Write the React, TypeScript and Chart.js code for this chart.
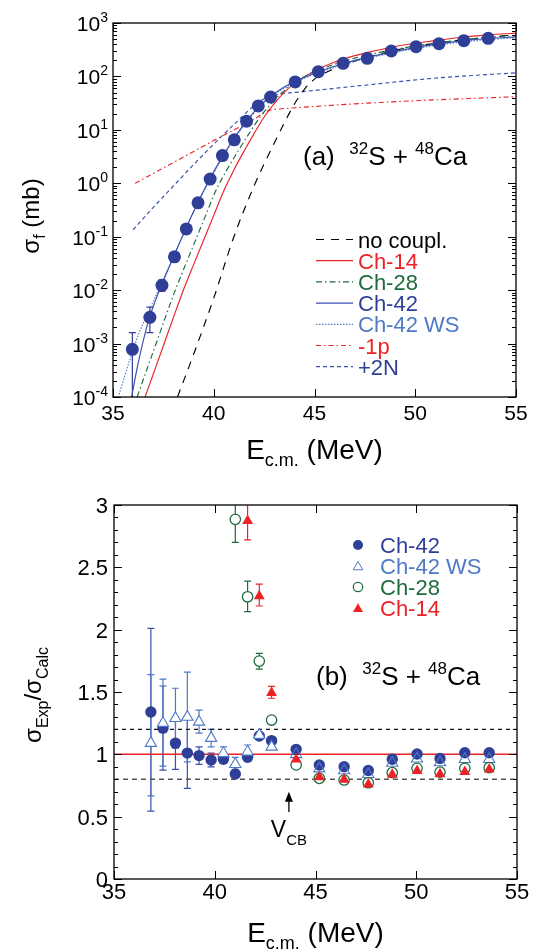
import React, { useEffect, useRef } from "react";
import { Chart, registerables } from "chart.js";

Chart.register(...registerables);

const FONT = '"Liberation Sans", Arial, Helvetica, sans-serif';
const C_DARK = "#2f3f97";
const C_CH42 = "#3a4fae";
const C_WS = "#4f79c8";
const C_RED = "#ec2227";
const C_GREEN = "#1d6c3c";

// ---------------- Panel (a): fission cross section ----------------
const E_EXP = [35.96, 36.83, 37.43, 38.05, 38.64, 39.22, 39.82, 40.43, 41.02, 41.63, 42.21, 42.82, 44.04, 45.19, 46.42, 47.62, 48.81, 50.04, 51.18, 52.41, 53.62];
const SIGMA_EXP = [7.8e-4, 3.1e-3, 0.0123, 0.042, 0.14, 0.43, 1.2, 3.3, 6.5, 14.5, 28, 41, 79, 123, 176, 218, 299, 360, 410, 467, 516];
const SIGMA_LO = [1e-5, 1.6e-3, 0.0095, 0.037, 0.12, null, null, null, null, null, null, null, null, null, null, null, null, null, null, null, null];
const SIGMA_HI = [1.6e-3, 4.8e-3, 0.0155, 0.047, 0.165, null, null, null, null, null, null, null, null, null, null, null, null, null, null, null, null];

const E_NOCOUPL = [38.2, 39, 40, 41, 42, 43, 44, 44.5, 45, 46, 47, 48, 49, 50, 51, 52, 53, 54, 55];
const S_NOCOUPL = [1.0e-4, 6.3e-4, 7.1e-3, 0.1, 0.89, 5.6, 30.2, 57.5, 89, 141, 195, 251, 309, 363, 417, 468, 513, 562, 596];

const E_CH14 = [36.59, 37, 37.5, 38, 38.5, 39, 39.5, 40, 40.5, 41, 41.5, 42, 42.5, 43, 43.5, 44, 45, 46, 47, 48, 49, 50, 51, 52, 53, 54, 55];
const S_CH14 = [1.0e-4, 2.7e-4, 9.1e-4, 3.1e-3, 0.0102, 0.03, 0.087, 0.251, 0.724, 1.78, 3.98, 8.5, 17.4, 30.9, 50.1, 74.1, 126, 186, 245, 302, 363, 417, 468, 525, 575, 617, 646];

const E_CH28 = [36.2, 36.6, 37.1, 37.6, 38.1, 38.6, 39.1, 39.6, 40.1, 40.65, 41.2, 41.75, 42.3, 42.85, 43.4, 44, 45, 46, 47, 48, 49, 50, 51, 52, 53, 54, 55];
const S_CH28 = [1.0e-4, 2.7e-4, 9.1e-4, 3.1e-3, 0.0102, 0.03, 0.087, 0.251, 0.724, 1.78, 3.98, 8.5, 17.4, 30.9, 50.1, 77, 120, 170, 220, 270, 320, 372, 420, 468, 515, 550, 580];

const E_CH42 = [35.9, 36.2, 36.5, 36.8, 37.1, 37.4, 38, 38.6, 39.2, 39.8, 40.4, 41, 41.6, 42.2, 42.8, 43.4, 44, 45, 46, 47, 48, 49, 50, 51, 52, 53, 54, 55];
const S_CH42 = [8.9e-5, 3.5e-4, 1.12e-3, 3.0e-3, 6.3e-3, 0.0123, 0.0417, 0.138, 0.427, 1.2, 3.02, 6.9, 14.1, 26.3, 41.7, 60.3, 79.4, 115, 155, 200, 245, 295, 347, 398, 447, 490, 525, 550];

const E_CH42WS = [35.3, 35.8, 36.3, 36.8, 37.4, 38, 38.6, 39.2, 39.8, 40.4, 41, 41.6, 42.2, 42.8, 43.4, 44, 45, 46, 47, 48, 49, 50, 51, 52, 53, 54, 55];
const S_CH42WS = [1.12e-4, 4.5e-4, 1.6e-3, 4.2e-3, 0.0132, 0.0427, 0.138, 0.417, 1.15, 2.88, 6.6, 13.5, 25.1, 39.8, 57.5, 75.9, 110, 148, 190, 234, 282, 331, 380, 427, 468, 501, 525];

const E_M1P = [36.1, 37, 38, 39, 40, 41, 42, 42.4, 42.8, 43.2, 44.3, 47.6, 50.9, 55];
const S_M1P = [1.0, 1.53, 2.45, 3.94, 6.3, 10, 15.8, 20, 23.4, 24.5, 26.3, 31.6, 36.3, 41.7];

const E_P2N = [36, 37, 38, 39, 40, 41, 42, 42.6, 43.3, 44.3, 47.6, 50.9, 55];
const S_P2N = [0.135, 0.355, 0.89, 2.24, 5.4, 12.6, 28.2, 39.8, 46.8, 51.3, 69.2, 92.3, 117];

const TOP_X_TICKS = [35, 40, 45, 50, 55];
const TOP_Y_EXP = [-4, -3, -2, -1, 0, 1, 2, 3];

// ---------------- Panel (b): ratio exp / calc ----------------
const E_B = [36.83, 37.43, 38.05, 38.64, 39.22, 39.82, 40.43, 41.02, 41.63, 42.21, 42.82, 44.04, 45.19, 46.42, 47.62, 48.81, 50.04, 51.18, 52.41, 53.62];
const R_CH42 = [1.34, 1.21, 1.09, 1.01, 0.99, 0.955, 0.96, 0.843, 0.976, 1.147, 1.11, 1.04, 0.914, 0.9, 0.87, 0.96, 1.003, 0.967, 1.013, 1.013];
const R_CH42_LO = [0.545, 0.874, 0.88, 0.727, 0.92, 0.9, null, null, null, null, null, null, null, null, null, null, null, null, null, null];
const R_CH42_HI = [2.01, 1.548, 1.3, 1.29, 1.06, 1.01, null, null, null, null, null, null, null, null, null, null, null, null, null, null];
const R_WS = [1.09, 1.25, 1.29, 1.3, 1.26, 1.13, 1.008, 0.92, 1.02, 1.155, 1.06, 1.0, 0.885, 0.87, 0.84, 0.93, 0.965, 0.935, 0.96, 0.96];
const R_WS_LO = [0.667, 0.906, 1.05, 0.94, 1.17, 1.06, 0.97, 0.88, 0.985, null, null, null, null, null, null, null, null, null, null, null];
const R_WS_HI = [1.64, 1.604, 1.53, 1.66, 1.355, 1.2, 1.06, 0.975, 1.075, null, null, null, null, null, null, null, null, null, null, null];

const E_B28 = [41.02, 41.63, 42.21, 42.82, 44.04, 45.19, 46.42, 47.62, 48.81, 50.04, 51.18, 52.41, 53.62];
const R_CH28 = [2.885, 2.264, 1.748, 1.275, 0.915, 0.807, 0.794, 0.772, 0.853, 0.888, 0.857, 0.888, 0.893];
const R_CH28_LO = [2.7, 2.144, 1.684, null, null, null, null, null, null, null, null, null, null];
const R_CH28_HI = [3.08, 2.39, 1.81, null, null, null, null, null, null, null, null, null, null];

const E_B14 = [41.63, 42.21, 42.82, 44.04, 45.19, 46.42, 47.62, 48.81, 50.04, 51.18, 52.41, 53.62];
const R_CH14 = [2.873, 2.27, 1.494, 0.96, 0.818, 0.797, 0.76, 0.838, 0.867, 0.842, 0.86, 0.879];
const R_CH14_LO = [2.72, 2.19, 1.45, null, null, null, null, null, null, null, null, null];
const R_CH14_HI = [3.08, 2.365, 1.545, null, null, null, null, null, null, null, null, null];

const REF_X = [35, 55];
const REF_ONE = [1, 1];
const REF_HIGH = [1.2, 1.2];
const REF_LOW = [0.8, 0.8];
const V_CB = 43.68;
const V_CB_ARROW = [0.537, 0.7];

const BOT_X_TICKS = [35, 40, 45, 50, 55];
const BOT_Y_TICKS = [0, 0.5, 1, 1.5, 2, 2.5, 3];
const BOT_Y_LABELS = ["0", "0.5", "1", "1.5", "2", "2.5", "3"];

// ---------------- helpers ----------------
type Run = { t: string; size: number; dy?: number };

function pts(xs: number[], ys: (number | null)[]) {
  return xs.map((x, i) => ({ x, y: ys[i] }));
}

function runsWidth(ctx: CanvasRenderingContext2D, runs: Run[]) {
  let w = 0;
  for (const r of runs) {
    ctx.font = `${r.size}px ${FONT}`;
    w += ctx.measureText(r.t).width;
  }
  return w;
}

function drawRuns(ctx: CanvasRenderingContext2D, runs: Run[], x: number, y: number, align: string, color: string) {
  const w = runsWidth(ctx, runs);
  let cx = align === "left" ? x : align === "center" ? x - w / 2 : x - w;
  ctx.fillStyle = color;
  ctx.textAlign = "left";
  ctx.textBaseline = "alphabetic";
  for (const r of runs) {
    ctx.font = `${r.size}px ${FONT}`;
    ctx.fillText(r.t, cx, y + (r.dy || 0));
    cx += ctx.measureText(r.t).width;
  }
}

function drawRotated(ctx: CanvasRenderingContext2D, runs: Run[], baseX: number, cy: number) {
  ctx.save();
  ctx.translate(baseX, cy);
  ctx.rotate(-Math.PI / 2);
  drawRuns(ctx, runs, 0, 0, "center", "#000");
  ctx.restore();
}

function drawFrame(chart: any, xMajor: number[], yMajor: number[], yMinor: number[]) {
  const { ctx, chartArea: a } = chart;
  const x = chart.scales.x;
  const y = chart.scales.y;
  ctx.save();
  ctx.setLineDash([]);
  ctx.strokeStyle = "#000";
  ctx.lineWidth = 1;
  ctx.beginPath();
  for (const v of xMajor) {
    const p = Math.round(x.getPixelForValue(v)) + 0.5;
    ctx.moveTo(p, a.bottom);
    ctx.lineTo(p, a.bottom - 8);
    ctx.moveTo(p, a.top);
    ctx.lineTo(p, a.top + 8);
  }
  for (const v of yMajor) {
    const p = Math.round(y.getPixelForValue(v)) + 0.5;
    ctx.moveTo(a.left, p);
    ctx.lineTo(a.left + 8, p);
    ctx.moveTo(a.right, p);
    ctx.lineTo(a.right - 8, p);
  }
  for (const v of yMinor) {
    const p = Math.round(y.getPixelForValue(v)) + 0.5;
    ctx.moveTo(a.left, p);
    ctx.lineTo(a.left + 4, p);
    ctx.moveTo(a.right, p);
    ctx.lineTo(a.right - 4, p);
  }
  ctx.stroke();
  ctx.lineWidth = 1.3;
  ctx.strokeRect(a.left, a.top, a.right - a.left, a.bottom - a.top);
  ctx.restore();
}

type ErrSet = { xs: number[]; lo: (number | null)[]; hi: (number | null)[]; color: string };

function errorBarPlugin(sets: ErrSet[]) {
  return {
    id: "errbars",
    beforeDatasetsDraw(chart: any) {
      const { ctx, chartArea: a } = chart;
      const x = chart.scales.x;
      const y = chart.scales.y;
      ctx.save();
      ctx.beginPath();
      ctx.rect(a.left, a.top, a.right - a.left, a.bottom - a.top);
      ctx.clip();
      ctx.setLineDash([]);
      for (const s of sets) {
        ctx.strokeStyle = s.color;
        ctx.lineWidth = 1.2;
        s.xs.forEach((xv, i) => {
          const lo = s.lo[i];
          const hi = s.hi[i];
          if (lo == null || hi == null) return;
          const px = x.getPixelForValue(xv);
          const p1 = y.getPixelForValue(lo);
          const p2 = y.getPixelForValue(hi);
          ctx.beginPath();
          ctx.moveTo(px, p1);
          ctx.lineTo(px, p2);
          ctx.moveTo(px - 3.5, p1);
          ctx.lineTo(px + 3.5, p1);
          ctx.moveTo(px - 3.5, p2);
          ctx.lineTo(px + 3.5, p2);
          ctx.stroke();
        });
      }
      ctx.restore();
    },
  };
}

function curve(xs: number[], ys: number[], color: string, dash: number[], width = 1.15) {
  return {
    data: pts(xs, ys),
    showLine: true,
    borderColor: color,
    borderWidth: width,
    borderDash: dash,
    pointRadius: 0,
    fill: false,
    cubicInterpolationMode: "monotone",
    order: 5,
  };
}

const baseScales = (xMin: number, xMax: number, yType: string, yMin: number, yMax: number, xH: number, yW: number) => ({
  x: {
    type: "linear",
    min: xMin,
    max: xMax,
    ticks: { display: false },
    grid: { display: false },
    border: { display: false },
    afterFit: (s: any) => {
      s.height = xH;
    },
  },
  y: {
    type: yType,
    min: yMin,
    max: yMax,
    ticks: { display: false },
    grid: { display: false },
    border: { display: false },
    afterFit: (s: any) => {
      s.width = yW;
    },
  },
});

function topConfig(): any {
  const yMinor: number[] = [];
  for (let k = -4; k < 3; k++) for (let m = 2; m <= 9; m++) yMinor.push(m * Math.pow(10, k));
  const yMajor = TOP_Y_EXP.map((e) => Math.pow(10, e));

  const legendRows = [
    { label: "no coupl.", color: "#000", text: "#000", dash: [8, 7] },
    { label: "Ch-14", color: C_RED, text: C_RED, dash: [] },
    { label: "Ch-28", color: C_GREEN, text: C_GREEN, dash: [6, 3, 1.5, 3] },
    { label: "Ch-42", color: C_CH42, text: C_DARK, dash: [] },
    { label: "Ch-42 WS", color: C_WS, text: C_WS, dash: [1.5, 1.5] },
    { label: "-1p", color: C_RED, text: C_RED, dash: [5, 3, 1.5, 3] },
    { label: "+2N", color: C_CH42, text: C_DARK, dash: [4, 3] },
  ];

  const deco = {
    id: "decoTop",
    afterDraw(chart: any) {
      const { ctx, chartArea: a } = chart;
      const x = chart.scales.x;
      const y = chart.scales.y;
      drawFrame(chart, TOP_X_TICKS, yMajor, yMinor);
      ctx.save();
      for (const v of TOP_X_TICKS) {
        drawRuns(ctx, [{ t: String(v), size: 21 }], x.getPixelForValue(v), a.bottom + 23, "center", "#000");
      }
      for (const e of TOP_Y_EXP) {
        const p = y.getPixelForValue(Math.pow(10, e));
        drawRuns(ctx, [{ t: "10", size: 21, dy: 0 }, { t: String(e), size: 14, dy: -9 }], a.left - 5, p + 8, "right", "#000");
      }
      drawRuns(
        ctx,
        [{ t: "E", size: 28 }, { t: "c.m.", size: 18, dy: 7 }, { t: " (MeV)", size: 28 }],
        (a.left + a.right) / 2,
        a.bottom + 62,
        "center",
        "#000"
      );
      drawRotated(ctx, [{ t: "σ", size: 24 }, { t: "f", size: 16, dy: 6 }, { t: " (mb)", size: 24 }], 39, 216);
      drawRuns(
        ctx,
        [{ t: "(a)  ", size: 26 }, { t: "32", size: 17, dy: -11 }, { t: "S + ", size: 26 }, { t: "48", size: 17, dy: -11 }, { t: "Ca", size: 26 }],
        303,
        165,
        "left",
        "#000"
      );
      legendRows.forEach((r, i) => {
        const ry = 239.5 + i * 21.2;
        ctx.save();
        ctx.strokeStyle = r.color;
        ctx.lineWidth = 1.2;
        ctx.setLineDash(r.dash);
        ctx.beginPath();
        ctx.moveTo(316, ry);
        ctx.lineTo(353, ry);
        ctx.stroke();
        ctx.restore();
        drawRuns(ctx, [{ t: r.label, size: 22 }], 358, ry + 8, "left", r.text);
      });
      ctx.restore();
    },
  };

  return {
    type: "scatter",
    data: {
      datasets: [
        {
          data: pts(E_EXP, SIGMA_EXP),
          pointRadius: 6.5,
          pointBackgroundColor: C_DARK,
          pointBorderColor: C_DARK,
          pointBorderWidth: 0,
          showLine: false,
          order: 0,
        },
        curve(E_CH42, S_CH42, C_CH42, []),
        curve(E_CH42WS, S_CH42WS, C_WS, [1.5, 1.5]),
        curve(E_CH28, S_CH28, C_GREEN, [6, 3, 1.5, 3]),
        curve(E_CH14, S_CH14, C_RED, []),
        curve(E_NOCOUPL, S_NOCOUPL, "#000", [8, 7]),
        curve(E_M1P, S_M1P, C_RED, [5, 3, 1.5, 3]),
        curve(E_P2N, S_P2N, C_CH42, [4, 3]),
      ],
    },
    options: {
      animation: false,
      responsive: false,
      devicePixelRatio: 1,
      layout: { padding: { left: 0, right: 27, top: 23, bottom: 0 } },
      plugins: { legend: { display: false }, tooltip: { enabled: false } },
      scales: baseScales(35, 55, "logarithmic", 1e-4, 1e3, 79, 113),
    },
    plugins: [errorBarPlugin([{ xs: E_EXP, lo: SIGMA_LO, hi: SIGMA_HI, color: C_DARK }]), deco],
  };
}

function drawTriangle(ctx: CanvasRenderingContext2D, x: number, y: number, r: number) {
  ctx.beginPath();
  for (let i = 0; i < 3; i++) {
    const ang = (i * 2 * Math.PI) / 3;
    const px = x + Math.sin(ang) * r;
    const py = y - Math.cos(ang) * r;
    if (i === 0) ctx.moveTo(px, py);
    else ctx.lineTo(px, py);
  }
  ctx.closePath();
}

function bottomConfig(): any {
  const yMinor: number[] = [];
  for (let i = 0; i <= 30; i++) if (i % 5 !== 0) yMinor.push(i / 10);

  const deco = {
    id: "decoBot",
    afterDraw(chart: any) {
      const { ctx, chartArea: a } = chart;
      const x = chart.scales.x;
      const y = chart.scales.y;
      drawFrame(chart, BOT_X_TICKS, BOT_Y_TICKS, yMinor);
      ctx.save();
      for (const v of BOT_X_TICKS) {
        drawRuns(ctx, [{ t: String(v), size: 22 }], x.getPixelForValue(v), a.bottom + 20, "center", "#000");
      }
      BOT_Y_TICKS.forEach((v, i) => {
        drawRuns(ctx, [{ t: BOT_Y_LABELS[i], size: 22 }], a.left - 6, y.getPixelForValue(v) + 8, "right", "#000");
      });
      drawRuns(
        ctx,
        [{ t: "E", size: 28 }, { t: "c.m.", size: 18, dy: 7 }, { t: " (MeV)", size: 28 }],
        (a.left + a.right) / 2,
        a.bottom + 63,
        "center",
        "#000"
      );
      drawRotated(
        ctx,
        [{ t: "σ", size: 24 }, { t: "Exp", size: 16, dy: 7 }, { t: "/σ", size: 24 }, { t: "Calc", size: 16, dy: 7 }],
        41,
        219
      );
      drawRuns(
        ctx,
        [{ t: "(b)  ", size: 26 }, { t: "32", size: 17, dy: -11 }, { t: "S + ", size: 26 }, { t: "48", size: 17, dy: -11 }, { t: "Ca", size: 26 }],
        316,
        209,
        "left",
        "#000"
      );
      // V_CB arrow
      const ax = x.getPixelForValue(V_CB);
      const yBot = y.getPixelForValue(V_CB_ARROW[0]);
      const yTip = y.getPixelForValue(V_CB_ARROW[1]);
      ctx.strokeStyle = "#000";
      ctx.lineWidth = 1.3;
      ctx.setLineDash([]);
      ctx.beginPath();
      ctx.moveTo(ax, yBot);
      ctx.lineTo(ax, yTip + 8);
      ctx.stroke();
      ctx.fillStyle = "#000";
      ctx.beginPath();
      ctx.moveTo(ax, yTip);
      ctx.lineTo(ax - 4, yTip + 10);
      ctx.lineTo(ax + 4, yTip + 10);
      ctx.closePath();
      ctx.fill();
      drawRuns(ctx, [{ t: "V", size: 23 }, { t: "CB", size: 15, dy: 8 }], ax, yBot + 25, "center", "#000");
      // legend
      const lx = 358;
      const rows = [69, 90, 111, 132];
      ctx.fillStyle = C_DARK;
      ctx.beginPath();
      ctx.arc(lx, rows[0], 5, 0, Math.PI * 2);
      ctx.fill();
      ctx.strokeStyle = C_WS;
      ctx.lineWidth = 1;
      drawTriangle(ctx, lx, rows[1] + 1, 5.5);
      ctx.stroke();
      ctx.strokeStyle = C_GREEN;
      ctx.lineWidth = 1.2;
      ctx.beginPath();
      ctx.arc(lx, rows[2], 4.7, 0, Math.PI * 2);
      ctx.stroke();
      ctx.fillStyle = C_RED;
      drawTriangle(ctx, lx, rows[3] + 1, 5.8);
      ctx.fill();
      const labels = [
        { t: "Ch-42", c: C_DARK },
        { t: "Ch-42 WS", c: C_WS },
        { t: "Ch-28", c: C_GREEN },
        { t: "Ch-14", c: C_RED },
      ];
      labels.forEach((l, i) => drawRuns(ctx, [{ t: l.t, size: 22 }], 380, rows[i] + 8, "left", l.c));
      ctx.restore();
    },
  };

  return {
    type: "scatter",
    data: {
      datasets: [
        {
          data: pts(E_B14, R_CH14),
          pointStyle: "triangle",
          pointRadius: 6.3,
          pointBackgroundColor: C_RED,
          pointBorderColor: C_RED,
          pointBorderWidth: 0,
          order: 0,
        },
        {
          data: pts(E_B28, R_CH28),
          pointStyle: "circle",
          pointRadius: 5.2,
          pointBackgroundColor: "#ffffff",
          pointBorderColor: C_GREEN,
          pointBorderWidth: 1.3,
          order: 1,
        },
        {
          data: pts(E_B, R_WS),
          pointStyle: "triangle",
          pointRadius: 6.5,
          pointBackgroundColor: E_B.map((e) => (e < 43.5 ? "#ffffff" : "rgba(255,255,255,0)")),
          pointBorderColor: C_WS,
          pointBorderWidth: 1.1,
          order: 2,
        },
        {
          data: pts(E_B, R_CH42),
          pointStyle: "circle",
          pointRadius: 5.7,
          pointBackgroundColor: C_DARK,
          pointBorderColor: C_DARK,
          pointBorderWidth: 0,
          order: 3,
        },
        {
          data: pts(REF_X, REF_ONE),
          showLine: true,
          pointRadius: 0,
          borderColor: C_RED,
          borderWidth: 1.5,
          order: 6,
        },
        {
          data: pts(REF_X, REF_HIGH),
          showLine: true,
          pointRadius: 0,
          borderColor: "#111",
          borderWidth: 1.2,
          borderDash: [4, 4],
          order: 7,
        },
        {
          data: pts(REF_X, REF_LOW),
          showLine: true,
          pointRadius: 0,
          borderColor: "#555",
          borderWidth: 1.6,
          borderDash: [5, 4],
          order: 8,
        },
      ],
    },
    options: {
      animation: false,
      responsive: false,
      devicePixelRatio: 1,
      layout: { padding: { left: 0, right: 26, top: 29, bottom: 0 } },
      plugins: { legend: { display: false }, tooltip: { enabled: false } },
      scales: baseScales(35, 55, "linear", 0, 3, 73, 114),
    },
    plugins: [
      errorBarPlugin([
        { xs: E_B, lo: R_CH42_LO, hi: R_CH42_HI, color: C_CH42 },
        { xs: E_B, lo: R_WS_LO, hi: R_WS_HI, color: C_WS },
        { xs: E_B28, lo: R_CH28_LO, hi: R_CH28_HI, color: C_GREEN },
        { xs: E_B14, lo: R_CH14_LO, hi: R_CH14_HI, color: C_RED },
      ]),
      deco,
    ],
  };
}

export default function App() {
  const topRef = useRef<HTMLCanvasElement>(null);
  const botRef = useRef<HTMLCanvasElement>(null);
  useEffect(() => {
    const c1 = new Chart(topRef.current as HTMLCanvasElement, topConfig());
    const c2 = new Chart(botRef.current as HTMLCanvasElement, bottomConfig());
    return () => {
      c1.destroy();
      c2.destroy();
    };
  }, []);
  return (
    <div style={{ position: "fixed", left: 0, top: 0, width: 543, height: 952, background: "#fff" }}>
      <canvas ref={topRef} width={543} height={476} style={{ position: "absolute", left: 0, top: 0, width: 543, height: 476 }} />
      <canvas ref={botRef} width={543} height={476} style={{ position: "absolute", left: 0, top: 476, width: 543, height: 476 }} />
    </div>
  );
}
